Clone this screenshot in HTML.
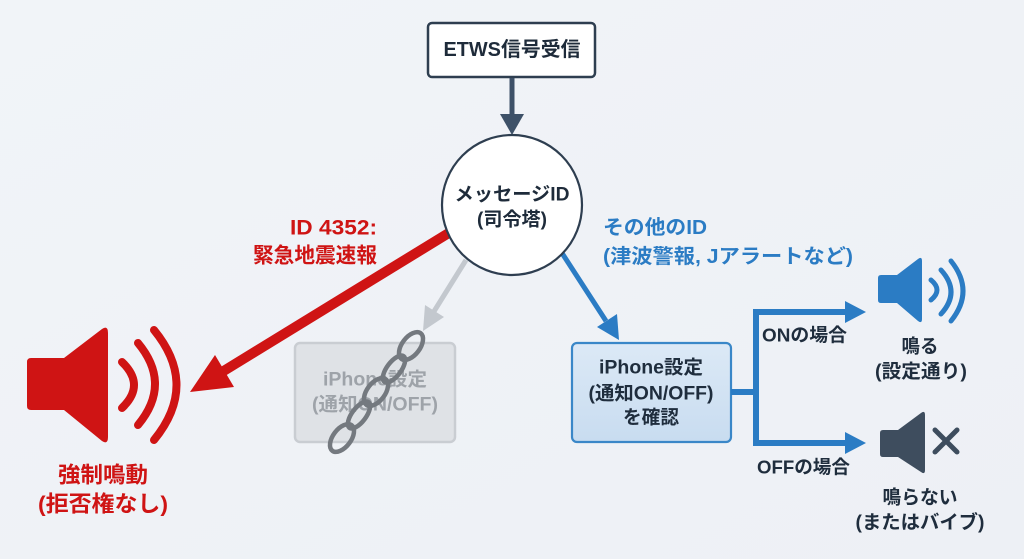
<!DOCTYPE html>
<html><head><meta charset="utf-8"><style>
html,body{margin:0;padding:0;background:#eff2f7;}
svg{display:block;}
text{font-family:"Liberation Sans","Noto Sans CJK JP",sans-serif;font-weight:bold;}
</style></head><body>
<svg width="1024" height="559" viewBox="0 0 1024 559" xmlns="http://www.w3.org/2000/svg">
<defs>
<linearGradient id="bg" x1="0" y1="0" x2="1" y2="1">
<stop offset="0" stop-color="#f1f4f8"/><stop offset="1" stop-color="#edf0f5"/>
</linearGradient>
<linearGradient id="bb" x1="0" y1="0" x2="0" y2="1">
<stop offset="0" stop-color="#dce9f6"/><stop offset="1" stop-color="#c8dcf0"/>
</linearGradient>
</defs>
<rect width="1024" height="559" fill="url(#bg)"/>

<!-- ETWS box -->
<rect x="428" y="23" width="167" height="54" rx="4" fill="#fff" stroke="#2e3e50" stroke-width="2.5"/>
<text x="512" y="50" font-size="20" fill="#1e2b3a" text-anchor="middle" dominant-baseline="central" textLength="137" lengthAdjust="spacingAndGlyphs">ETWS信号受信</text>
<!-- down arrow -->
<line x1="512" y1="78" x2="512" y2="118" stroke="#3e5168" stroke-width="5"/>
<polygon points="500,114 524,114 512,135" fill="#3e5168"/>

<!-- red arrow -->
<line x1="452" y1="231" x2="222" y2="372" stroke="#cf1414" stroke-width="10"/>
<polygon points="190,392 215,355 234,387" fill="#cf1414"/>

<!-- gray arrow -->
<line x1="466" y1="260" x2="433" y2="313" stroke="#c3c8ce" stroke-width="5"/>
<polygon points="423,331 425,305 444,317" fill="#c3c8ce"/>

<!-- blue arrow -->
<line x1="560" y1="250" x2="606" y2="321" stroke="#2b7cc4" stroke-width="5"/>
<polygon points="619,340 597,327 617,314" fill="#2b7cc4"/>

<!-- circle -->
<circle cx="512" cy="205" r="70" fill="#fff" stroke="#2e3e50" stroke-width="2.2"/>
<text x="512" y="195" font-size="19" fill="#1e2b3a" text-anchor="middle" dominant-baseline="central" textLength="115" lengthAdjust="spacingAndGlyphs">メッセージID</text>
<text x="512" y="220" font-size="19" fill="#1e2b3a" text-anchor="middle" dominant-baseline="central" textLength="70" lengthAdjust="spacingAndGlyphs">(司令塔)</text>

<!-- red labels -->
<text x="377" y="228" font-size="21" fill="#cf1414" text-anchor="end" dominant-baseline="central" textLength="87" lengthAdjust="spacingAndGlyphs">ID 4352:</text>
<text x="377" y="256" font-size="21" fill="#cf1414" text-anchor="end" dominant-baseline="central" textLength="124" lengthAdjust="spacingAndGlyphs">緊急地震速報</text>

<!-- red speaker -->
<path d="M27,362 Q27,358 31,358 L64,358 L102,329 Q108,325 108,333 L108,437 Q108,445 102,441 L64,410 L31,410 Q27,410 27,406 Z" fill="#cf1414"/>
<g fill="none" stroke="#cf1414" stroke-width="8" stroke-linecap="round">
<path d="M122,362 Q146,385 122,408"/>
<path d="M138,343 Q172,384 138,425"/>
<path d="M154,330 Q199,385 154,440"/>
</g>
<text x="103" y="475" font-size="22" fill="#cf1414" text-anchor="middle" dominant-baseline="central" textLength="90" lengthAdjust="spacingAndGlyphs">強制鳴動</text>
<text x="103" y="504" font-size="22" fill="#cf1414" text-anchor="middle" dominant-baseline="central" textLength="130" lengthAdjust="spacingAndGlyphs">(拒否権なし)</text>

<!-- gray box -->
<rect x="295" y="343" width="160" height="99" rx="5" fill="#dfe2e6" stroke="#c9cdd2" stroke-width="2.5"/>
<text x="375" y="380" font-size="19" fill="#9ea3a9" text-anchor="middle" dominant-baseline="central" textLength="104" lengthAdjust="spacingAndGlyphs">iPhone設定</text>
<text x="375" y="405" font-size="19" fill="#9ea3a9" text-anchor="middle" dominant-baseline="central" textLength="126" lengthAdjust="spacingAndGlyphs">(通知ON/OFF)</text>
<!-- chain -->
<g fill="none" stroke="#74797f" stroke-width="4.5">
<ellipse cx="411" cy="346" rx="16" ry="9" transform="rotate(-53 411 346)"/>
<ellipse cx="394" cy="369" rx="16" ry="7" transform="rotate(-53 394 369)"/>
<ellipse cx="376" cy="392" rx="16" ry="9" transform="rotate(-53 376 392)"/>
<ellipse cx="359" cy="415" rx="16" ry="7" transform="rotate(-53 359 415)"/>
<ellipse cx="342" cy="438" rx="16" ry="9" transform="rotate(-53 342 438)"/>
</g>

<!-- blue labels -->
<text x="603" y="228" font-size="20" fill="#2b7cc4" dominant-baseline="central" textLength="104" lengthAdjust="spacingAndGlyphs">その他のID</text>
<text x="603" y="257" font-size="20" fill="#2b7cc4" dominant-baseline="central" textLength="250" lengthAdjust="spacingAndGlyphs">(津波警報, Jアラートなど)</text>

<!-- blue box -->
<rect x="572" y="343" width="159" height="99" rx="5" fill="url(#bb)" stroke="#3a87c8" stroke-width="2.2"/>
<text x="651" y="368" font-size="19" fill="#1f2d3d" text-anchor="middle" dominant-baseline="central" textLength="104" lengthAdjust="spacingAndGlyphs">iPhone設定</text>
<text x="651" y="394" font-size="19" fill="#1f2d3d" text-anchor="middle" dominant-baseline="central" textLength="125" lengthAdjust="spacingAndGlyphs">(通知ON/OFF)</text>
<text x="651" y="418" font-size="19" fill="#1f2d3d" text-anchor="middle" dominant-baseline="central" textLength="56" lengthAdjust="spacingAndGlyphs">を確認</text>

<!-- branch -->
<g fill="#2b7cc4">
<rect x="731" y="389" width="27" height="6"/>
<rect x="753" y="309" width="6" height="137"/>
<rect x="753" y="309" width="95" height="6"/>
<rect x="753" y="440" width="95" height="6"/>
<polygon points="845,301 845,323 866,312"/>
<polygon points="845,432 845,454 866,443"/>
</g>
<text x="762" y="335" font-size="18.5" fill="#1f2d3d" dominant-baseline="central" textLength="85" lengthAdjust="spacingAndGlyphs">ONの場合</text>
<text x="757" y="467" font-size="18.5" fill="#1f2d3d" dominant-baseline="central" textLength="93" lengthAdjust="spacingAndGlyphs">OFFの場合</text>

<!-- blue speaker -->
<path d="M878,278 Q878,275 881,275 L897,275 L918,259 Q922,256 922,261 L922,319 Q922,324 918,321 L897,303 L881,303 Q878,303 878,300 Z" fill="#2b7cc4"/>
<g fill="none" stroke="#2b7cc4" stroke-width="5" stroke-linecap="round">
<path d="M931,280 Q943,290 931,300"/>
<path d="M941,270 Q961,292 941,314"/>
<path d="M951,261 Q975,291 951,321"/>
</g>
<text x="920" y="347" font-size="19" fill="#1f2d3d" text-anchor="middle" dominant-baseline="central" textLength="37" lengthAdjust="spacingAndGlyphs">鳴る</text>
<text x="921" y="372" font-size="19" fill="#1f2d3d" text-anchor="middle" dominant-baseline="central" textLength="92" lengthAdjust="spacingAndGlyphs">(設定通り)</text>

<!-- muted speaker -->
<path d="M880,433 Q880,430 883,430 L898,430 L921,413 Q925,410 925,415 L925,470 Q925,475 921,472 L898,457 L883,457 Q880,457 880,454 Z" fill="#3e4d5e"/>
<g stroke="#3e4d5e" stroke-width="5" stroke-linecap="round">
<line x1="935" y1="430" x2="957" y2="452"/>
<line x1="957" y1="430" x2="935" y2="452"/>
</g>
<text x="920" y="498" font-size="19" fill="#1f2d3d" text-anchor="middle" dominant-baseline="central" textLength="75" lengthAdjust="spacingAndGlyphs">鳴らない</text>
<text x="920" y="523" font-size="19" fill="#1f2d3d" text-anchor="middle" dominant-baseline="central" textLength="129" lengthAdjust="spacingAndGlyphs">(またはバイブ)</text>
</svg>
</body></html>
